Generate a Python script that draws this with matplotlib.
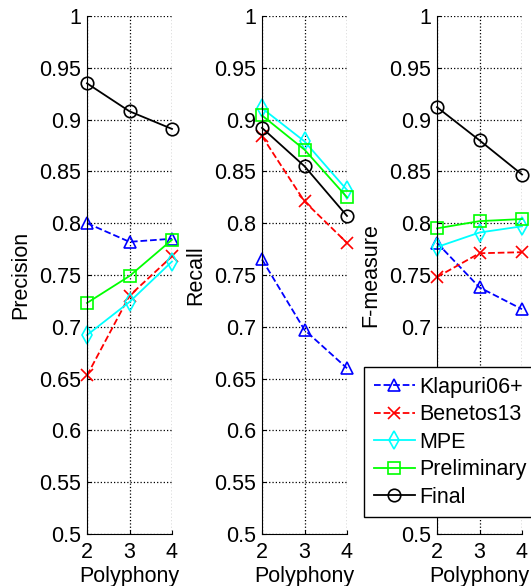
import matplotlib.pyplot as plt

# polyphony levels
poly = [2, 3, 4]

methods = ['Klapuri06+', 'Benetos13', 'MPE', 'Preliminary', 'Final']

# precision
prec_klapuri = [0.800, 0.782, 0.785]
prec_benetos = [0.653, 0.730, 0.768]
prec_mpe = [0.692, 0.724, 0.763]
prec_prelim = [0.723, 0.749, 0.784]
prec_final = [0.935, 0.908, 0.891]

# recall
rec_klapuri = [0.765, 0.697, 0.660]
rec_benetos = [0.884, 0.821, 0.781]
rec_mpe = [0.911, 0.879, 0.832]
rec_prelim = [0.904, 0.871, 0.825]
rec_final = [0.892, 0.855, 0.807]

# f-measure
f_klapuri = [0.781, 0.738, 0.717]
f_benetos = [0.748, 0.771, 0.772]
f_mpe = [0.777, 0.791, 0.797]
f_prelim = [0.795, 0.802, 0.804]
f_final = [0.912, 0.880, 0.847]

panels = [
    ('Precision', [prec_klapuri, prec_benetos, prec_mpe, prec_prelim, prec_final]),
    ('Recall', [rec_klapuri, rec_benetos, rec_mpe, rec_prelim, rec_final]),
    ('F-measure', [f_klapuri, f_benetos, f_mpe, f_prelim, f_final]),
]

styles = [
    dict(color='#0000ff', ls='--', marker='^'),
    dict(color='#ff0000', ls='--', marker='x'),
    dict(color='#00ffff', ls='-', marker='d'),
    dict(color='#00ff00', ls='-', marker='s'),
    dict(color='#000000', ls='-', marker='o'),
]

plt.rcParams['font.family'] = 'Liberation Sans'
plt.rcParams['font.size'] = 15.5

W, H = 531, 586
fig = plt.figure(figsize=(W / 100, H / 100), dpi=100)

lefts = [87, 262, 437]
handles = []
for left, (name, series) in zip(lefts, panels):
    ax = fig.add_axes([left / W, 52 / H, 85 / W, 518 / H])
    for vals, st, lab in zip(series, styles, methods):
        l, = ax.plot(poly, vals, color=st['color'], ls=st['ls'], marker=st['marker'],
                     mfc='none', mec=st['color'], ms=9, mew=1.2, lw=1.3,
                     clip_on=False, label=lab)
        if len(handles) < 5:
            handles.append(l)
    ax.set_xlim(2, 4)
    ax.set_ylim(0.5, 1)
    ax.set_xticks(poly)
    ax.set_yticks([0.5, 0.55, 0.6, 0.65, 0.7, 0.75, 0.8, 0.85, 0.9, 0.95, 1])
    ax.set_yticklabels(['0.5', '0.55', '0.6', '0.65', '0.7', '0.75', '0.8',
                        '0.85', '0.9', '0.95', '1'])
    ax.grid(True, ls=':', color='black', lw=0.9)
    ax.spines['top'].set_visible(False)
    ax.spines['right'].set_visible(False)
    ax.tick_params(direction='in', length=3)
    ax.tick_params(axis='y', pad=4)
    ax.tick_params(axis='x', pad=6)
    ax.set_xlabel('Polyphony', labelpad=2)
    ax.set_ylabel(name, labelpad=6)

fig.legend(handles, methods, loc='upper left', bbox_to_anchor=(364 / W, 1 - 367 / H),
           fancybox=False, edgecolor='black', framealpha=1, handlelength=1.9,
           labelspacing=0.3, borderpad=0.45, handletextpad=0.2, borderaxespad=0)

fig.savefig('out.png', dpi=100)
